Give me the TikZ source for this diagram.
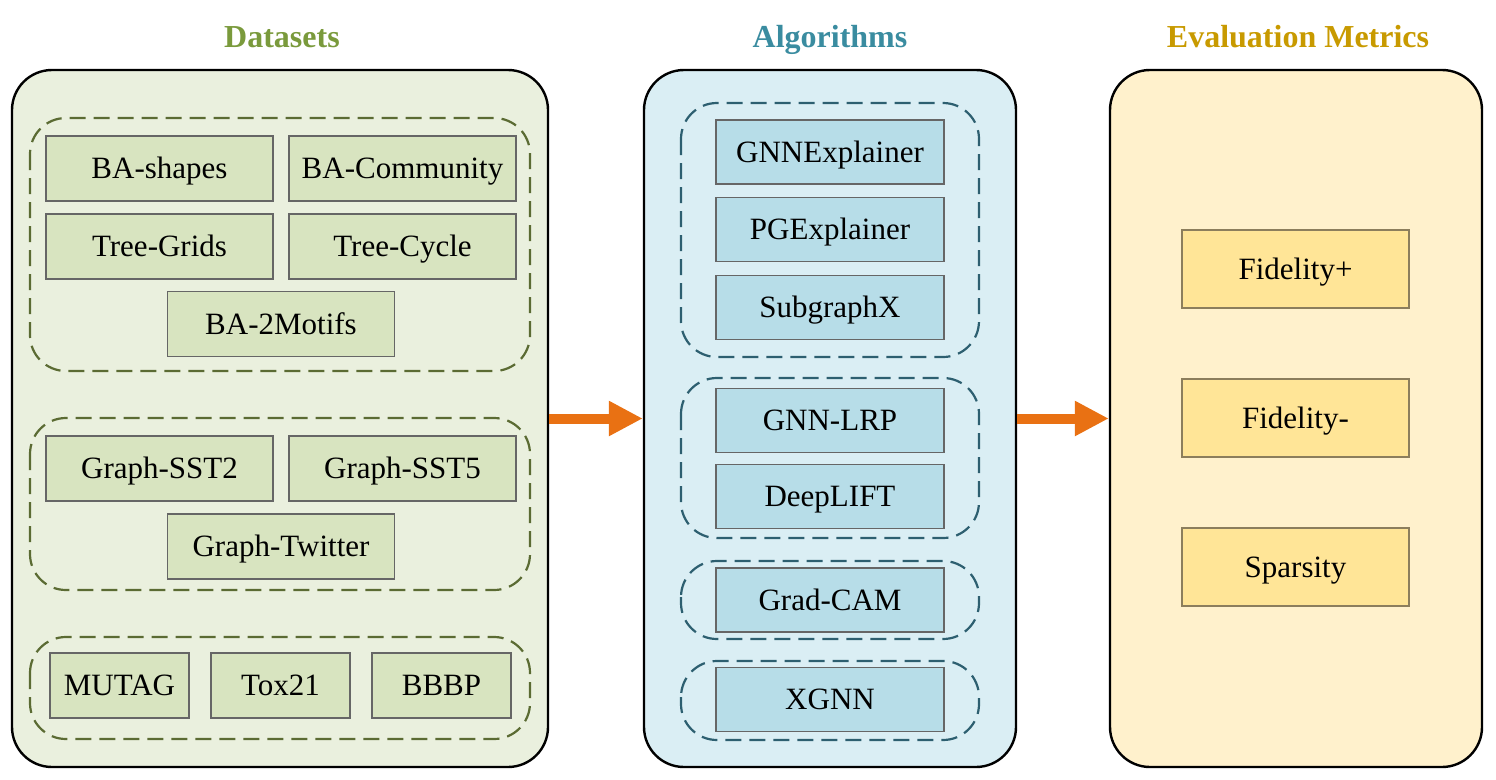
\documentclass[tikz,border=0pt]{standalone}
\usepackage{fontspec}
\setmainfont{Liberation Serif}
\usetikzlibrary{arrows.meta}

\definecolor{dsfill}{HTML}{EAF0DE}
\definecolor{dsbox}{HTML}{D8E4C0}
\definecolor{dsline}{HTML}{5B6B33}
\definecolor{dstitle}{HTML}{7A9A3C}
\definecolor{alfill}{HTML}{DAEEF4}
\definecolor{albox}{HTML}{B7DDE8}
\definecolor{alline}{HTML}{2D5F70}
\definecolor{altitle}{HTML}{3A8CA0}
\definecolor{evfill}{HTML}{FFF1CC}
\definecolor{evbox}{HTML}{FFE597}
\definecolor{evline}{HTML}{8C7E5C}
\definecolor{evtitle}{HTML}{C89A00}
\definecolor{flow}{HTML}{E97113}

\begin{document}
\begin{tikzpicture}[x=1pt, y=-1pt,
	every node/.style={font=\fontsize{31}{36}\selectfont},
	panel/.style={draw=black, line width=2.4pt, rounded corners=40pt, minimum height=697pt, inner sep=0pt},
	title/.style={font=\fontsize{32}{38}\selectfont\bfseries, anchor=base},
	cell/.style={draw=gray!80!black, line width=1.1pt, minimum height=65pt, inner sep=0pt, text height=20.5pt, text depth=0pt},
	group/.style={dash pattern=on 16pt off 8pt, line width=2.2pt, rounded corners=36pt},
	flowarrow/.style={flow, line width=10pt, -{Triangle[length=34pt, width=33pt]}}]
	\useasboundingbox (0,0) rectangle (1496,779);
	% panels
	\node[panel, fill=dsfill, minimum width=536pt] (datasets) at (280,418.5) {};
	\node[panel, fill=alfill, minimum width=372pt] (algorithms) at (830,418.5) {};
	\node[panel, fill=evfill, minimum width=372pt] (metrics) at (1296,418.5) {};
	\node[title, dstitle] (dstitle) at (282,47) {Datasets};
	\node[title, altitle] (altitle) at (830,47) {Algorithms};
	\node[title, evtitle] (evtitle) at (1298,47) {Evaluation Metrics};
	% dashed groups
	\draw[group, dsline] (30,118) rectangle (530,371);
	\draw[group, dsline] (30,418) rectangle (530,590);
	\draw[group, dsline] (30,637) rectangle (530,739);
	\draw[group, alline] (681,103) rectangle (979,357);
	\draw[group, alline] (681,378) rectangle (979,538);
	\draw[group, alline] (681,561) rectangle (979,639);
	\draw[group, alline] (681,661) rectangle (979,740);
	% datasets
	\node[cell, fill=dsbox, minimum width=227pt] (bashapes) at (159.5,168.5) {BA-shapes};
	\node[cell, fill=dsbox, minimum width=227pt] (bacommunity) at (402.5,168.5) {BA-Community};
	\node[cell, fill=dsbox, minimum width=227pt] (treegrids) at (159.5,246.5) {Tree-Grids};
	\node[cell, fill=dsbox, minimum width=227pt] (treecycle) at (402.5,246.5) {Tree-Cycle};
	\node[cell, fill=dsbox, minimum width=227pt] (ba2motifs) at (281,324) {BA-2Motifs};
	\node[cell, fill=dsbox, minimum width=227pt] (sst2) at (159.5,468.5) {Graph-SST2};
	\node[cell, fill=dsbox, minimum width=227pt] (sst5) at (402.5,468.5) {Graph-SST5};
	\node[cell, fill=dsbox, minimum width=227pt] (twitter) at (281,546.5) {Graph-Twitter};
	\node[cell, fill=dsbox, minimum width=139pt] (mutag) at (119.5,685.5) {MUTAG};
	\node[cell, fill=dsbox, minimum width=139pt] (tox21) at (280.5,685.5) {Tox21};
	\node[cell, fill=dsbox, minimum width=139pt] (bbbp) at (441.5,685.5) {BBBP};
	% algorithms
	\node[cell, fill=albox, minimum width=228pt, minimum height=64pt] (gnnexpl) at (830,152) {GNNExplainer};
	\node[cell, fill=albox, minimum width=228pt, minimum height=64pt] (pgexpl) at (830,229.5) {PGExplainer};
	\node[cell, fill=albox, minimum width=228pt, minimum height=64pt] (subgraphx) at (830,307.5) {SubgraphX};
	\node[cell, fill=albox, minimum width=228pt, minimum height=64pt] (gnnlrp) at (830,420.5) {GNN-LRP};
	\node[cell, fill=albox, minimum width=228pt, minimum height=64pt] (deeplift) at (830,496.5) {DeepLIFT};
	\node[cell, fill=albox, minimum width=228pt, minimum height=64pt] (gradcam) at (830,600) {Grad-CAM};
	\node[cell, fill=albox, minimum width=228pt, minimum height=64pt] (xgnn) at (830,699.5) {XGNN};
	% metrics
	\node[cell, fill=evbox, draw=evline, minimum width=227pt, minimum height=78pt] (fidplus) at (1295.5,269) {Fidelity+};
	\node[cell, fill=evbox, draw=evline, minimum width=227pt, minimum height=78pt] (fidminus) at (1295.5,418) {Fidelity-};
	\node[cell, fill=evbox, draw=evline, minimum width=227pt, minimum height=78pt] (sparsity) at (1295.5,567) {Sparsity};
	% flow
	\draw[flowarrow] (datasets.east) -- (algorithms.west);
	\draw[flowarrow] (algorithms.east) -- (metrics.west);
\end{tikzpicture}
\end{document}
